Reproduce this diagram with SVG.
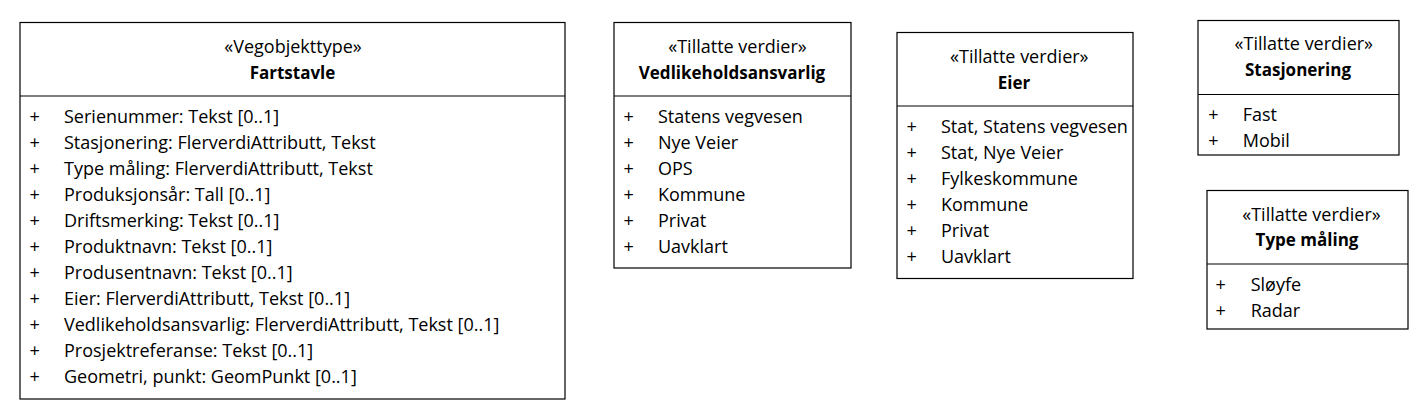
<svg xmlns="http://www.w3.org/2000/svg" width="1428" height="420" viewBox="0 0 1428 420">
<style>
  .box { fill: #ffffff; stroke: #000000; stroke-width: 1.2; }
  .div { stroke: #000000; stroke-width: 1.2; }
  text { font-family: "Open Sans", "Liberation Sans", sans-serif; font-size: 18px; fill: #000000; }
  .st { text-anchor: middle; }
  .nm { text-anchor: middle; font-weight: bold; font-size: 17px; }
  .pl { text-anchor: middle; }
</style>
<rect x="0" y="0" width="1428" height="420" fill="#ffffff"/>
<g id="connectors"/>

<g id="node-fartstavle">
  <rect class="box" x="20" y="22.5" width="545" height="376.5"/>
  <line class="div" x1="20" y1="96" x2="565" y2="96"/>
  <text class="st" x="293" y="53">«Vegobjekttype»</text>
  <text class="nm" x="292.5" y="79">Fartstavle</text>
  <g>
    <text class="pl" x="34.6" y="123">+</text><text x="64" y="123">Serienummer: Tekst [0..1]</text>
    <text class="pl" x="34.6" y="149">+</text><text x="64" y="149">Stasjonering: FlerverdiAttributt, Tekst</text>
    <text class="pl" x="34.6" y="175">+</text><text x="64" y="175">Type måling: FlerverdiAttributt, Tekst</text>
    <text class="pl" x="34.6" y="201">+</text><text x="64" y="201">Produksjonsår: Tall [0..1]</text>
    <text class="pl" x="34.6" y="227">+</text><text x="64" y="227">Driftsmerking: Tekst [0..1]</text>
    <text class="pl" x="34.6" y="253">+</text><text x="64" y="253">Produktnavn: Tekst [0..1]</text>
    <text class="pl" x="34.6" y="279">+</text><text x="64" y="279">Produsentnavn: Tekst [0..1]</text>
    <text class="pl" x="34.6" y="305">+</text><text x="64" y="305">Eier: FlerverdiAttributt, Tekst [0..1]</text>
    <text class="pl" x="34.6" y="331">+</text><text x="64" y="331">Vedlikeholdsansvarlig: FlerverdiAttributt, Tekst [0..1]</text>
    <text class="pl" x="34.6" y="357">+</text><text x="64" y="357">Prosjektreferanse: Tekst [0..1]</text>
    <text class="pl" x="34.6" y="383">+</text><text x="64" y="383">Geometri, punkt: GeomPunkt [0..1]</text>
  </g>
</g>

<g id="node-vedlikeholdsansvarlig">
  <rect class="box" x="614" y="22.5" width="237" height="245.5"/>
  <line class="div" x1="614" y1="96" x2="851" y2="96"/>
  <text class="st" x="737.5" y="53">«Tillatte verdier»</text>
  <text class="nm" x="732" y="78.5">Vedlikeholdsansvarlig</text>
  <text class="pl" x="628.6" y="123">+</text><text x="658" y="123">Statens vegvesen</text>
  <text class="pl" x="628.6" y="149">+</text><text x="658" y="149">Nye Veier</text>
  <text class="pl" x="628.6" y="175">+</text><text x="658" y="175">OPS</text>
  <text class="pl" x="628.6" y="201">+</text><text x="658" y="201">Kommune</text>
  <text class="pl" x="628.6" y="227">+</text><text x="658" y="227">Privat</text>
  <text class="pl" x="628.6" y="253">+</text><text x="658" y="253">Uavklart</text>
</g>

<g id="node-eier">
  <rect class="box" x="897" y="32.5" width="236" height="246"/>
  <line class="div" x1="897" y1="106" x2="1133" y2="106"/>
  <text class="st" x="1019.3" y="63">«Tillatte verdier»</text>
  <text class="nm" x="1014" y="88.5">Eier</text>
  <text class="pl" x="911.6" y="133.3">+</text><text x="941" y="133.3">Stat, Statens vegvesen</text>
  <text class="pl" x="911.6" y="159.3">+</text><text x="941" y="159.3">Stat, Nye Veier</text>
  <text class="pl" x="911.6" y="185.3">+</text><text x="941" y="185.3">Fylkeskommune</text>
  <text class="pl" x="911.6" y="211.3">+</text><text x="941" y="211.3">Kommune</text>
  <text class="pl" x="911.6" y="237.3">+</text><text x="941" y="237.3">Privat</text>
  <text class="pl" x="911.6" y="263.3">+</text><text x="941" y="263.3">Uavklart</text>
</g>

<g id="node-stasjonering">
  <rect class="box" x="1198" y="20.5" width="201" height="134.5"/>
  <line class="div" x1="1198" y1="94.5" x2="1399" y2="94.5"/>
  <text class="st" x="1303.8" y="50">«Tillatte verdier»</text>
  <text class="nm" x="1298" y="76">Stasjonering</text>
  <text class="pl" x="1213.3" y="121">+</text><text x="1242.7" y="121">Fast</text>
  <text class="pl" x="1213.3" y="146.7">+</text><text x="1242.7" y="146.7">Mobil</text>
</g>

<g id="node-type-maaling">
  <rect class="box" x="1207" y="190.5" width="201" height="138.5"/>
  <line class="div" x1="1207" y1="264" x2="1408" y2="264"/>
  <text class="st" x="1311.5" y="220.7">«Tillatte verdier»</text>
  <text class="nm" x="1307" y="246">Type måling</text>
  <text class="pl" x="1220.7" y="291">+</text><text x="1250.7" y="291">Sløyfe</text>
  <text class="pl" x="1220.7" y="316.7">+</text><text x="1250.7" y="316.7">Radar</text>
</g>
</svg>
